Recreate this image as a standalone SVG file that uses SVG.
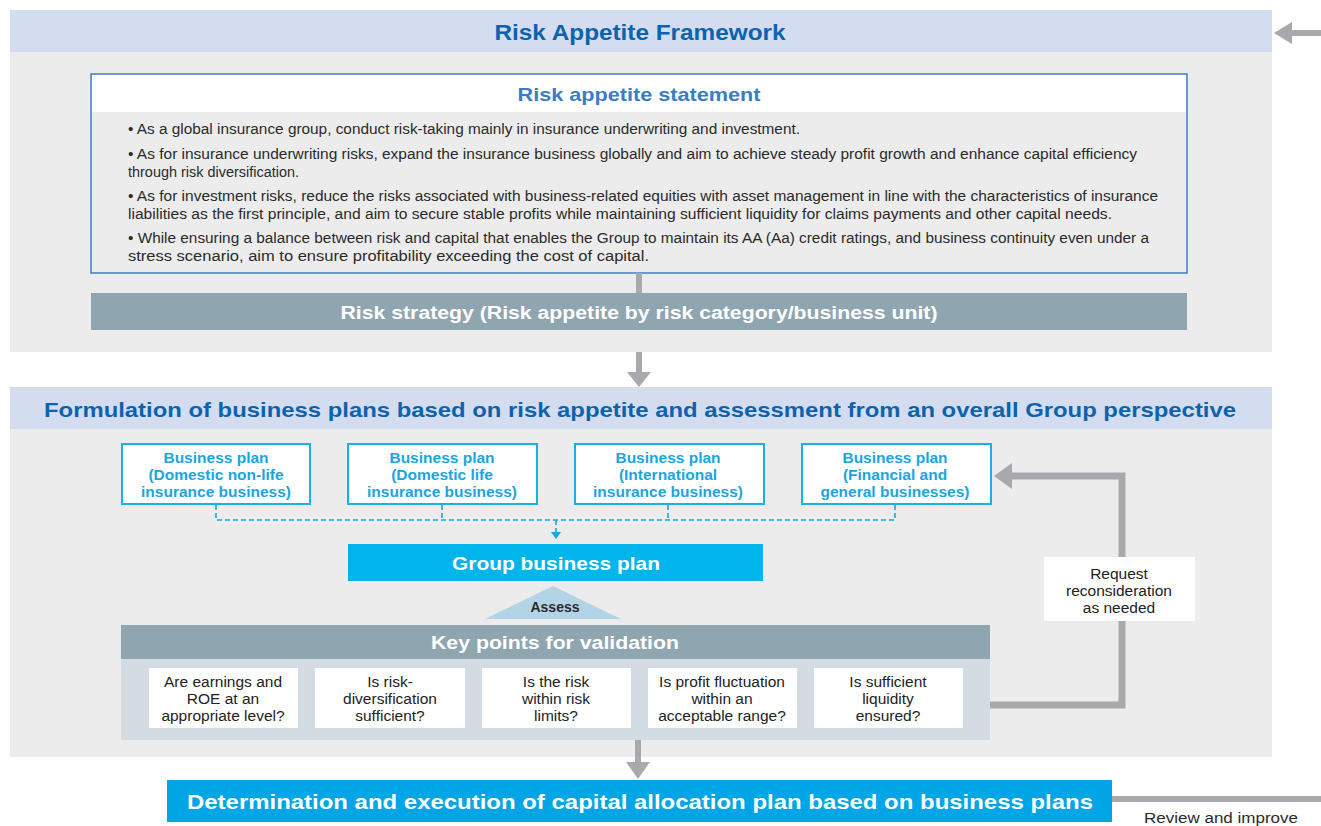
<svg xmlns="http://www.w3.org/2000/svg" width="1321" height="826" viewBox="0 0 1321 826">
<style>
.panel{fill:#ececec}
.band{fill:#d4ddef}
.h1{font-family:"Liberation Sans",Arial,sans-serif;font-weight:bold;fill:#0b63ad;text-anchor:middle}
.wt{font-family:"Liberation Sans",Arial,sans-serif;font-weight:bold;fill:#ffffff;text-anchor:middle}
.body{font-family:"Liberation Sans",Arial,sans-serif;font-size:15.5px;fill:#2a2a2a}
.bp{fill:#ffffff;stroke:#1ab0e6;stroke-width:2}
.bpt{font-family:"Liberation Sans",Arial,sans-serif;font-weight:bold;font-size:15.5px;fill:#1aa5df;text-anchor:middle}
.kp{fill:#ffffff}
.kpt{font-family:"Liberation Sans",Arial,sans-serif;font-size:15.5px;fill:#222222;text-anchor:middle}
.garr{fill:none;stroke:#a8a9ad;stroke-width:6}
.ghead{fill:#a8a9ad}
.dash{fill:none;stroke:#1aa5df;stroke-width:1.6;stroke-dasharray:5 3}
</style>
<rect width="1321" height="826" fill="#ffffff"/>

<g id="risk-appetite-framework">
<rect class="panel" x="10" y="10" width="1262" height="342"/>
<rect class="band" x="10" y="10" width="1262" height="42"/>
<text class="h1" x="640" y="40" font-size="22" textLength="291" lengthAdjust="spacingAndGlyphs">Risk Appetite Framework</text>
</g>

<g id="risk-appetite-statement">
<rect x="91" y="74" width="1096" height="199" fill="#ececec" stroke="#3d7ec6" stroke-width="1.5"/>
<rect x="92" y="75" width="1094" height="37" fill="#ffffff"/>
<text x="639" y="101" font-family="'Liberation Sans',Arial,sans-serif" font-weight="bold" font-size="19" fill="#3a7dc4" text-anchor="middle" textLength="243" lengthAdjust="spacingAndGlyphs">Risk appetite statement</text>
<text class="body" x="128" y="134" textLength="672" lengthAdjust="spacingAndGlyphs">• As a global insurance group, conduct risk-taking mainly in insurance underwriting and investment.</text>
<text class="body" x="128" y="159" textLength="1009" lengthAdjust="spacingAndGlyphs">• As for insurance underwriting risks, expand the insurance business globally and aim to achieve steady profit growth and enhance capital efficiency</text>
<text class="body" x="128" y="177" textLength="171" lengthAdjust="spacingAndGlyphs">through risk diversification.</text>
<text class="body" x="128" y="201" textLength="1030" lengthAdjust="spacingAndGlyphs">• As for investment risks, reduce the risks associated with business-related equities with asset management in line with the characteristics of insurance</text>
<text class="body" x="128" y="219" textLength="984" lengthAdjust="spacingAndGlyphs">liabilities as the first principle, and aim to secure stable profits while maintaining sufficient liquidity for claims payments and other capital needs.</text>
<text class="body" x="128" y="243" textLength="1021" lengthAdjust="spacingAndGlyphs">• While ensuring a balance between risk and capital that enables the Group to maintain its AA (Aa) credit ratings, and business continuity even under a</text>
<text class="body" x="128" y="261" textLength="521" lengthAdjust="spacingAndGlyphs">stress scenario, aim to ensure profitability exceeding the cost of capital.</text>
</g>

<g id="risk-strategy">
<rect x="91" y="293" width="1096" height="37" fill="#8fa5af"/>
<text class="wt" x="639" y="319" font-size="18" textLength="597" lengthAdjust="spacingAndGlyphs">Risk strategy (Risk appetite by risk category/business unit)</text>
</g>

<g id="formulation">
<rect class="panel" x="10" y="387" width="1262" height="370"/>
<rect class="band" x="10" y="387" width="1262" height="42"/>
<text class="h1" x="640" y="417" font-size="21" textLength="1192" lengthAdjust="spacingAndGlyphs">Formulation of business plans based on risk appetite and assessment from an overall Group perspective</text>
</g>

<g id="bp-domestic-nonlife">
<rect class="bp" x="122" y="444" width="188" height="60"/>
<text class="bpt" x="216" y="463">Business plan</text>
<text class="bpt" x="216" y="480">(Domestic non-life</text>
<text class="bpt" x="216" y="497">insurance business)</text>
</g>
<g id="bp-domestic-life">
<rect class="bp" x="348" y="444" width="189" height="60"/>
<text class="bpt" x="442" y="463">Business plan</text>
<text class="bpt" x="442" y="480">(Domestic life</text>
<text class="bpt" x="442" y="497">insurance business)</text>
</g>
<g id="bp-international">
<rect class="bp" x="575" y="444" width="189" height="60"/>
<text class="bpt" x="668" y="463">Business plan</text>
<text class="bpt" x="668" y="480">(International</text>
<text class="bpt" x="668" y="497">insurance business)</text>
</g>
<g id="bp-financial">
<rect class="bp" x="802" y="444" width="189" height="60"/>
<text class="bpt" x="895" y="463">Business plan</text>
<text class="bpt" x="895" y="480">(Financial and</text>
<text class="bpt" x="895" y="497">general businesses)</text>
</g>

<g id="group-business-plan">
<rect x="348" y="544" width="415" height="37" fill="#00b5eb"/>
<text class="wt" x="556" y="570" font-size="19" textLength="208" lengthAdjust="spacingAndGlyphs">Group business plan</text>
</g>

<g id="assess">
<polygon points="485,619 621,619 553,586" fill="#b3d3e6"/>
<text x="555" y="612" font-family="'Liberation Sans',Arial,sans-serif" font-weight="bold" font-size="14" fill="#2a2a2a" text-anchor="middle">Assess</text>
</g>

<g id="key-points">
<rect x="121" y="625" width="869" height="34" fill="#8fa5af"/>
<rect x="121" y="659" width="869" height="81" fill="#d3dbe3"/>
<text class="wt" x="555" y="649" font-size="19" textLength="248" lengthAdjust="spacingAndGlyphs">Key points for validation</text>
</g>
<g id="kp-earnings">
<rect class="kp" x="149" y="668" width="149" height="60"/>
<text class="kpt" x="223" y="687">Are earnings and</text>
<text class="kpt" x="223" y="704">ROE at an</text>
<text class="kpt" x="223" y="721">appropriate level?</text>
</g>
<g id="kp-diversification">
<rect class="kp" x="315" y="668" width="150" height="60"/>
<text class="kpt" x="390" y="687">Is risk-</text>
<text class="kpt" x="390" y="704">diversification</text>
<text class="kpt" x="390" y="721">sufficient?</text>
</g>
<g id="kp-limits">
<rect class="kp" x="482" y="668" width="149" height="60"/>
<text class="kpt" x="556" y="687">Is the risk</text>
<text class="kpt" x="556" y="704">within risk</text>
<text class="kpt" x="556" y="721">limits?</text>
</g>
<g id="kp-fluctuation">
<rect class="kp" x="648" y="668" width="149" height="60"/>
<text class="kpt" x="722" y="687">Is profit fluctuation</text>
<text class="kpt" x="722" y="704">within an</text>
<text class="kpt" x="722" y="721">acceptable range?</text>
</g>
<g id="kp-liquidity">
<rect class="kp" x="814" y="668" width="149" height="60"/>
<text class="kpt" x="888" y="687">Is sufficient</text>
<text class="kpt" x="888" y="704">liquidity</text>
<text class="kpt" x="888" y="721">ensured?</text>
</g>

<g id="capital-allocation">
<rect x="167" y="780" width="945" height="42" fill="#00a5e5"/>
<text class="wt" x="640" y="809" font-size="21" textLength="906" lengthAdjust="spacingAndGlyphs">Determination and execution of capital allocation plan based on business plans</text>
</g>

<g id="connectors">
<line class="garr" x1="1321" y1="33" x2="1290" y2="33"/>
<polygon class="ghead" points="1274,33 1292,22 1292,44"/>
<line class="garr" x1="639" y1="273" x2="639" y2="293"/>
<line class="garr" x1="639" y1="352" x2="639" y2="374"/>
<polygon class="ghead" points="627,372 651,372 639,387"/>
<path class="dash" d="M216,505 V520 H895 V505 M442,505 V520 M668,505 V520 M556,520 V532"/>
<polygon points="551,532 561,532 556,539" fill="#1aa5df"/>
<path fill="none" stroke="#a8a9ad" stroke-width="7" d="M990,705 H1122 V476 H1010"/>
<polygon class="ghead" points="994,476 1012,463 1012,489"/>
<line class="garr" x1="638" y1="740" x2="638" y2="764"/>
<polygon class="ghead" points="626,762 650,762 638,779"/>
<line class="garr" x1="1112" y1="799" x2="1321" y2="799"/>
</g>

<g id="request-label">
<rect x="1044" y="557" width="151" height="64" fill="#ffffff"/>
<text class="kpt" x="1119" y="579">Request</text>
<text class="kpt" x="1119" y="596">reconsideration</text>
<text class="kpt" x="1119" y="613">as needed</text>
</g>

<g id="review-label">
<text x="1221" y="823" font-family="'Liberation Sans',Arial,sans-serif" font-size="14" fill="#2a2a2a" text-anchor="middle" textLength="154" lengthAdjust="spacingAndGlyphs">Review and improve</text>
</g>
</svg>
